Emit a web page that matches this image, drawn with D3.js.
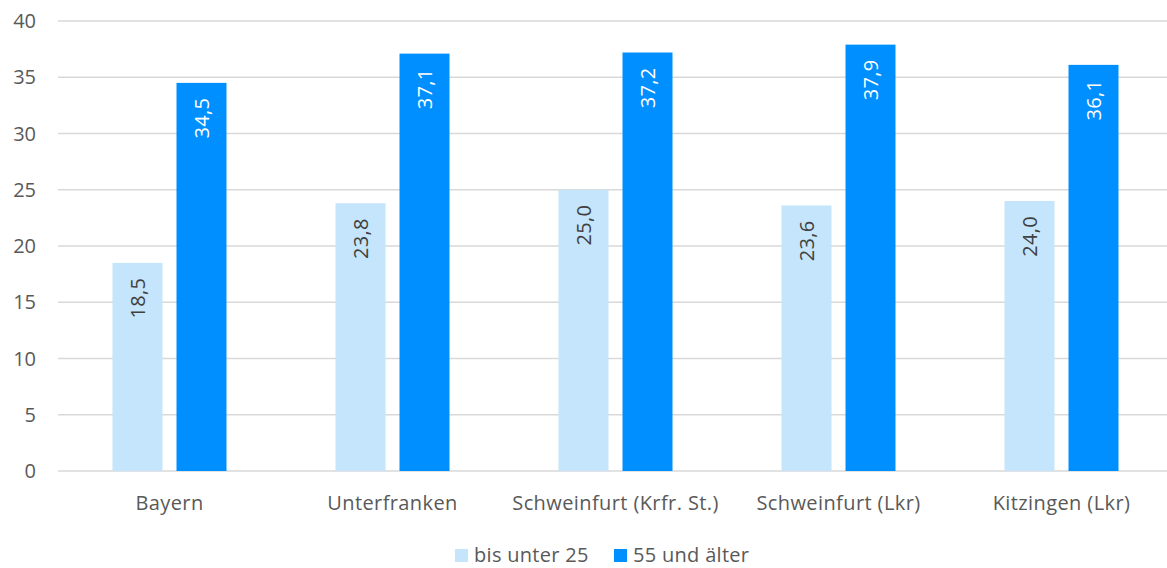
<!DOCTYPE html>
<html>
<head>
<meta charset="utf-8">
<script src="https://cdn.jsdelivr.net/npm/d3@7"></script>
<style>
  body { margin: 0; background: #fff; }
  svg { font-family: 'Open Sans', 'Noto Sans', sans-serif; }
</style>
</head>
<body>
<svg width="1167" height="568"></svg>
<script>
const categories = ['Bayern', 'Unterfranken', 'Schweinfurt (Krfr. St.)', 'Schweinfurt (Lkr)', 'Kitzingen (Lkr)'];
const seriesNames = ['bis unter 25', '55 und älter'];
const young = [18.5, 23.8, 25.0, 23.6, 24.0];
const old = [34.5, 37.1, 37.2, 37.9, 36.1];
const yTicks = [0, 5, 10, 15, 20, 25, 30, 35, 40];
const colors = ['#C5E5FC', '#008FFF'];
const labelColors = ['#404040', '#ffffff'];

const svg = d3.select('svg');
const fmt = v => v.toFixed(1).replace('.', ',');

const x = d3.scaleBand().domain(categories).range([58, 1173]);
const y = d3.scaleLinear().domain([0, 40]).range([471, 21]);

// gridlines
svg.append('g')
  .selectAll('line')
  .data(yTicks)
  .enter()
  .append('line')
  .attr('x1', 58)
  .attr('x2', 1167)
  .attr('y1', d => y(d))
  .attr('y2', d => y(d))
  .attr('stroke', '#D9D9D9')
  .attr('stroke-width', 1.5);

// y tick labels
svg.append('g')
  .selectAll('text')
  .data(yTicks)
  .enter()
  .append('text')
  .attr('x', 36)
  .attr('y', d => y(d))
  .attr('dy', '0.36em')
  .attr('text-anchor', 'end')
  .attr('fill', '#595959')
  .attr('font-size', 20)
  .text(d => d);

const series = [young, old];
const offsets = [-57, 7];
const barW = 50;

series.forEach((vals, si) => {
  const g = svg.append('g');
  g.selectAll('rect')
    .data(vals)
    .enter()
    .append('rect')
    .attr('x', (d, i) => x(categories[i]) + x.bandwidth() / 2 + offsets[si])
    .attr('y', d => y(d))
    .attr('width', barW)
    .attr('height', d => y(0) - y(d))
    .attr('fill', colors[si]);

  g.selectAll('text')
    .data(vals)
    .enter()
    .append('text')
    .attr('transform', (d, i) => {
      const cx = x(categories[i]) + x.bandwidth() / 2 + offsets[si] + barW / 2;
      return `translate(${cx},${y(d) + 15}) rotate(-90)`;
    })
    .attr('text-anchor', 'end')
    .attr('dy', '0.35em')
    .attr('fill', labelColors[si])
    .attr('font-size', 20)
    .attr('letter-spacing', 0.3)
    .text(fmt);
});

// x labels
svg.append('g')
  .selectAll('text')
  .data(categories)
  .enter()
  .append('text')
  .attr('x', d => x(d) + x.bandwidth() / 2)
  .attr('y', 510)
  .attr('text-anchor', 'middle')
  .attr('fill', '#595959')
  .attr('font-size', 20)
  .attr('letter-spacing', 0.4)
  .text(d => d);

// legend
const legend = svg.append('g');
const legendX = [455, 614];
seriesNames.forEach((name, i) => {
  legend.append('rect')
    .attr('x', legendX[i])
    .attr('y', 549)
    .attr('width', 13)
    .attr('height', 13)
    .attr('fill', colors[i]);
  legend.append('text')
    .attr('x', legendX[i] + 19)
    .attr('y', 555)
    .attr('dy', '0.36em')
    .attr('fill', '#595959')
    .attr('font-size', 20)
    .attr('letter-spacing', 0.3)
    .text(name);
});
</script>
</body>
</html>
